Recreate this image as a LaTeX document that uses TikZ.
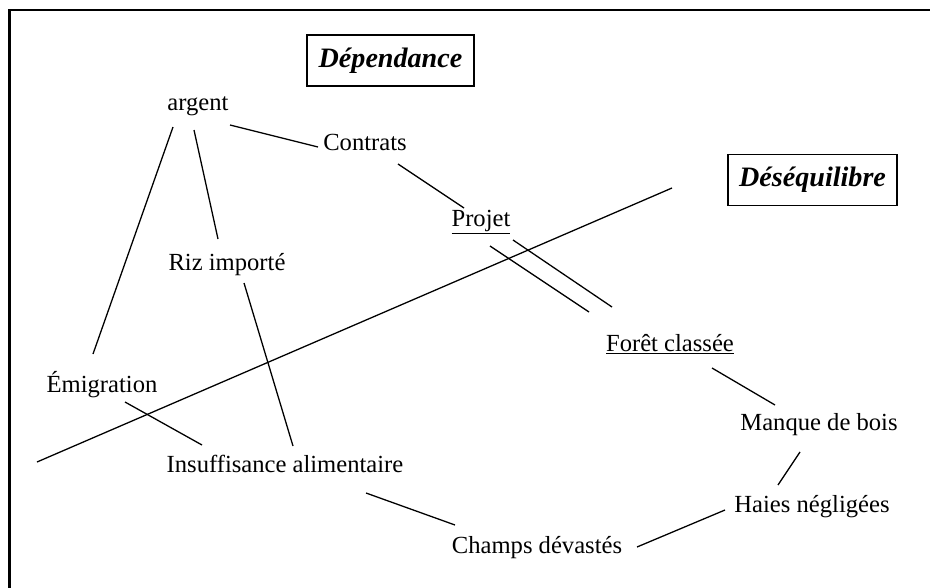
\documentclass[tikz,border=0pt]{standalone}
\usepackage{fontspec}
\setmainfont{Liberation Serif}
\usepackage{tikz}
\usetikzlibrary{positioning}

\begin{document}
\begin{tikzpicture}[x=0.03cm, y=-0.03cm,
    word/.style={font=\fontsize{21}{24}\selectfont, inner sep=0pt},
    pole/.style={draw, line width=1.5pt, font=\fontsize{24}{28}\selectfont\bfseries\itshape,
      minimum height=1.53cm, inner sep=0pt},
    link/.style={line width=1.1pt}]
    \useasboundingbox (0,0) rectangle (930,587);
    \draw[line width=2pt] (9.5,592) -- (9.5,10) -- (935,10);

    \node[pole, minimum width=5.01cm] (dep) at (390.5,60.5) {Dépendance};
    \node[pole, minimum width=5.07cm] (deseq) at (812.5,180) {Déséquilibre};

    \node[word] (argent) at (198,106) {argent};
    \node[word] (contrats) at (365,142) {Contrats};
    \node[word] (riz) at (227,265) {Riz importé};
    \node[word] (emig) at (102,385) {Émigration};
    \node[word] (insuf) at (285,464) {Insuffisance alimentaire};
    \node[word] (projet) at (481,222) {\underline{Projet}};
    \node[word] (foret) at (670,344) {\underline{Forêt classée}};
    \node[word] (manque) at (819,425) {Manque de bois};
    \node[word] (haies) at (812,507) {Haies négligées};
    \node[word] (champs) at (537,548) {Champs dévastés};

    % ligne de partage
    \coordinate (cut1) at (37,462);
    \coordinate (cut2) at (672,188);
    \draw[link] (cut1) -- (cut2);

    \path[link]
      ([shift={(32,19)}]argent.center) edge ([shift={(-47,5)}]contrats.center)
      ([shift={(-25,21)}]argent.center) edge ([shift={(-9,-31)}]emig.center)
      ([shift={(-4,24)}]argent.center) edge ([shift={(-9,-26)}]riz.center)
      ([shift={(17,18)}]riz.center) edge ([shift={(8,-18)}]insuf.center)
      ([shift={(23,17)}]emig.center) edge ([shift={(-83,-19)}]insuf.center)
      ([shift={(33,22)}]contrats.center) edge ([shift={(-17,-14)}]projet.center)
      ([shift={(9,24)}]projet.center) edge ([shift={(-81,-32)}]foret.center)
      ([shift={(32,18)}]projet.center) edge ([shift={(-58,-37)}]foret.center)
      ([shift={(42,24)}]foret.center) edge ([shift={(-44,-20)}]manque.center)
      ([shift={(-19,27)}]manque.center) edge ([shift={(-34,-22)}]haies.center)
      ([shift={(-87,3)}]haies.center) edge ([shift={(100,-1)}]champs.center)
      ([shift={(81,29)}]insuf.center) edge ([shift={(-82,-23)}]champs.center);
\end{tikzpicture}
\end{document}
